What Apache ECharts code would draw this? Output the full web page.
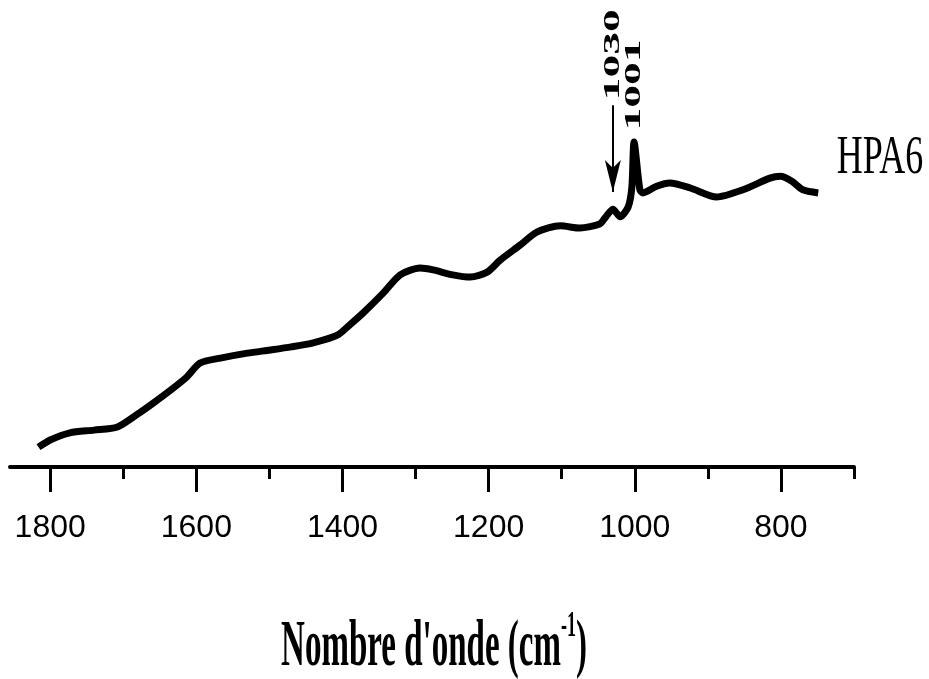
<!DOCTYPE html>
<html>
<head>
<meta charset="utf-8">
<script src="https://cdn.jsdelivr.net/npm/echarts@6/dist/echarts.min.js"></script>
<style>
  html, body { margin: 0; padding: 0; background: #ffffff; }
  #chart { width: 929px; height: 679px; }
</style>
</head>
<body>
<div id="chart"></div>
<script>
// Raman spectrum of sample HPA6 (arbitrary intensity units)
const wavenumber = [1816, 1800, 1773, 1740, 1708, 1680, 1659, 1635, 1613, 1595, 1567, 1530, 1499, 1470,
  1440, 1407, 1390, 1372, 1344, 1321, 1294, 1276, 1249, 1225, 1202, 1184, 1157, 1134, 1102, 1075,
  1048, 1041, 1030, 1020, 1009, 1004, 1001, 993, 989, 970, 952, 924, 888, 852, 815, 801, 785, 770, 749];
const intensity = [4.4, 6.0, 7.6, 8.2, 8.9, 11.8, 14.2, 17.1, 20.0, 23.1, 24.2, 25.3, 26.0, 26.7,
  27.6, 29.3, 31.6, 34.2, 38.7, 42.7, 44.2, 43.8, 42.7, 42.2, 43.3, 46.0, 49.3, 52.2, 53.6, 53.1,
  54.0, 55.3, 57.3, 55.6, 57.8, 62.2, 72.2, 61.6, 60.9, 62.4, 63.1, 62.0, 60.0, 61.6, 64.2, 64.6, 63.5, 61.6, 60.9];

// Axis span, labelled ticks and unlabelled ticks
const X_MIN = 700, X_MAX = 1855;
const MAJOR_MIN = 800, MAJOR_MAX = 1800;
const MINOR_MIN = 700, MINOR_MAX = 1700;
const TICK_STEP = 200;

// Annotated bands: arrow for the 1030 shoulder, label over the 1001 peak
const arrowBand = 1030;
const arrowFrom = 80.4;
const arrowTo = 61.1;
const bandLabels = [
  { text: '1030', x: 1030, y: 91.6 },
  { text: '1001', x: 1001, y: 84.9 }
];
const sampleName = 'HPA6';
const axisTitle = "Nombre d'onde (cm";

const PLOT_LEFT = 10, PLOT_RIGHT_PX = 854, PLOT_TOP = 17, PLOT_BOTTOM = 212;
const W = 929;
const pxPerUnit = (PLOT_RIGHT_PX - PLOT_LEFT) / (X_MAX - X_MIN);
// tick grids share the plot's pixel scale but span only their own range (axis is reversed)
const spanGrid = (lo, hi) => ({
  left: PLOT_LEFT + (X_MAX - hi) * pxPerUnit,
  right: W - (PLOT_LEFT + (X_MAX - lo) * pxPerUnit),
  top: PLOT_TOP, bottom: PLOT_BOTTOM, outerBoundsMode: 'none', containLabel: false
});

const chart = echarts.init(document.getElementById('chart'));

const labelFont = '"Liberation Sans Narrow", "Liberation Sans", Arial, sans-serif';
const tickAxis = (grid, lo, hi, len, labels) => ({
  gridIndex: grid, type: 'value', inverse: true, min: lo, max: hi, interval: TICK_STEP,
  position: 'bottom',
  splitLine: { show: false },
  axisLine: { show: false, onZero: false },
  axisTick: { show: true, length: len, lineStyle: { color: '#000', width: 3 } },
  axisLabel: labels
    ? { show: true, margin: 45, color: '#000', fontFamily: labelFont, fontSize: 32, formatter: v => String(v) }
    : { show: false }
});

const option = {
  animation: false,
  backgroundColor: '#ffffff',
  grid: [
    { left: PLOT_LEFT, right: W - PLOT_RIGHT_PX, top: PLOT_TOP, bottom: PLOT_BOTTOM,
      outerBoundsMode: 'none', containLabel: false },
    spanGrid(MAJOR_MIN, MAJOR_MAX),
    spanGrid(MINOR_MIN, MINOR_MAX)
  ],
  xAxis: [
    {
      gridIndex: 0, type: 'value', inverse: true, min: X_MIN, max: X_MAX, position: 'bottom',
      splitLine: { show: false },
      axisLine: { show: true, onZero: false, lineStyle: { color: '#000', width: 4 } },
      axisTick: { show: false },
      axisLabel: { show: false }
    },
    tickAxis(1, MAJOR_MIN, MAJOR_MAX, 25, true),
    tickAxis(2, MINOR_MIN, MINOR_MAX, 12, false)
  ],
  yAxis: [0, 1, 2].map(g => ({ gridIndex: g, type: 'value', min: 0, max: 100, show: false })),
  series: [{
    type: 'line',
    xAxisIndex: 0,
    yAxisIndex: 0,
    data: wavenumber.map((w, i) => [w, intensity[i]]),
    showSymbol: false,
    smooth: 0.25,
    lineStyle: { color: '#000', width: 7 },
    markLine: {
      silent: true,
      symbol: ['none', 'arrow'],
      symbolSize: [12, 32],
      label: { show: false },
      lineStyle: { color: '#000', width: 2, type: 'solid' },
      data: [[{ coord: [arrowBand, arrowFrom] }, { coord: [arrowBand, arrowTo] }]]
    }
  }]
};

chart.setOption(option);

// Text annotations placed through the chart's own coordinate system
const graphics = bandLabels.map(b => {
  const p = chart.convertToPixel({ xAxisIndex: 0, yAxisIndex: 0 }, [b.x, b.y]);
  return {
    type: 'text', x: p[0], y: p[1], rotation: Math.PI / 2, scaleX: 1.9, scaleY: 1,
    style: { text: b.text, fill: '#000', fontSize: 24, fontWeight: 'bold',
      fontFamily: '"Liberation Serif", "Times New Roman", serif',
      align: 'center', verticalAlign: 'middle' }
  };
});

graphics.push({
  type: 'text', x: 880, y: 158, scaleX: 1, scaleY: 1.55,
  style: { text: sampleName, fill: '#000', fontSize: 36,
    fontFamily: '"Liberation Serif", "Times New Roman", serif',
    align: 'center', verticalAlign: 'middle' }
});

graphics.push({
  type: 'text', x: 434, y: 645, scaleX: 1, scaleY: 2,
  style: {
    text: '{a|' + axisTitle + '}{s|-1}{a|)}',
    fill: '#000', align: 'center', verticalAlign: 'middle',
    rich: {
      a: { fontSize: 33, fontWeight: 'bold', fontFamily: '"Liberation Serif", "Times New Roman", serif',
        fill: '#000', lineHeight: 36, verticalAlign: 'bottom' },
      s: { fontSize: 18, fontWeight: 'bold', fontFamily: '"Liberation Serif", "Times New Roman", serif',
        fill: '#000', lineHeight: 36, verticalAlign: 'top' }
    }
  }
});

chart.setOption({ graphic: graphics });
</script>
</body>
</html>
